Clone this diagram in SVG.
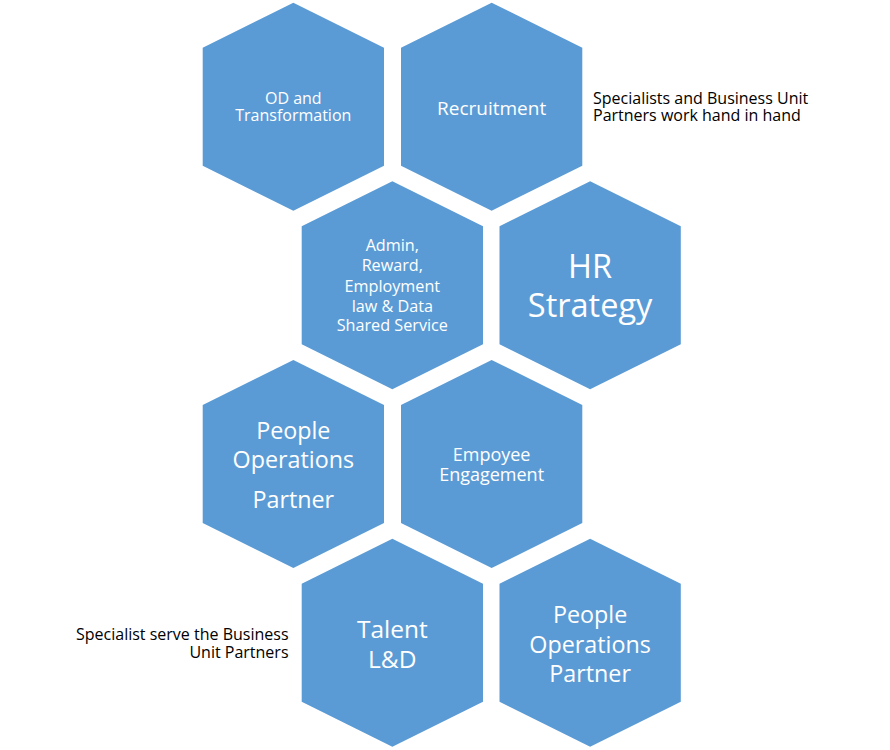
<svg xmlns="http://www.w3.org/2000/svg" xmlns:xlink="http://www.w3.org/1999/xlink" width="890" height="750" viewBox="0 0 890 750">
<defs>
<style>
.hex{fill:#5B9BD5;}
.t{font-family:"Open Sans","Noto Sans","Liberation Sans",sans-serif;fill:#FFFFFF;text-anchor:middle;}
.note{font-family:"Open Sans","Noto Sans","Liberation Sans",sans-serif;fill:#000000;font-size:16px;}
</style>
<polygon id="hexshape" points="90.65,0 181.3,45 181.3,163 90.65,208 0,163 0,45"/>
</defs>
<rect width="890" height="750" fill="#FFFFFF"/>
<g id="connectors"></g>
<g id="od">
<use xlink:href="#hexshape" href="#hexshape" class="hex" x="202.7" y="2.7"/>
<text class="t" font-size="16"><tspan x="293.3" y="104">OD and</tspan><tspan x="293.3" y="121.3">Transformation</tspan></text>
</g>
<g id="recruitment">
<use xlink:href="#hexshape" href="#hexshape" class="hex" x="401" y="2.7"/>
<text class="t" font-size="19" x="491.6" y="115">Recruitment</text>
</g>
<g id="admin">
<use xlink:href="#hexshape" href="#hexshape" class="hex" x="301.7" y="181.3"/>
<text class="t" font-size="16.2"><tspan x="392.3" y="251">Admin,</tspan><tspan x="392.3" y="270.5">Reward,</tspan><tspan x="392.3" y="291.5">Employment</tspan><tspan x="392.3" y="311.5">law &amp; Data</tspan><tspan x="392.3" y="330.7">Shared Service</tspan></text>
</g>
<g id="hrstrategy">
<use xlink:href="#hexshape" href="#hexshape" class="hex" x="499.5" y="181.3"/>
<text class="t" font-size="32.5"><tspan x="590.1" y="278.3">HR</tspan><tspan x="590.1" y="316.7">Strategy</tspan></text>
</g>
<g id="peopleops1">
<use xlink:href="#hexshape" href="#hexshape" class="hex" x="202.7" y="360"/>
<text class="t" font-size="23.3"><tspan x="293.3" y="439">People</tspan><tspan x="293.3" y="468.3">Operations</tspan><tspan x="293.3" y="507.7">Partner</tspan></text>
</g>
<g id="engagement">
<use xlink:href="#hexshape" href="#hexshape" class="hex" x="401" y="360"/>
<text class="t" font-size="18"><tspan x="491.6" y="461">Empoyee</tspan><tspan x="491.6" y="480.7">Engagement</tspan></text>
</g>
<g id="talent">
<use xlink:href="#hexshape" href="#hexshape" class="hex" x="301.7" y="538.7"/>
<text class="t" font-size="24.5"><tspan x="392.3" y="638.3">Talent</tspan><tspan x="392.3" y="668.3">L&amp;D</tspan></text>
</g>
<g id="peopleops2">
<use xlink:href="#hexshape" href="#hexshape" class="hex" x="499.5" y="538.7"/>
<text class="t" font-size="23.3"><tspan x="590.1" y="623.3">People</tspan><tspan x="590.1" y="652.7">Operations</tspan><tspan x="590.1" y="681.7">Partner</tspan></text>
</g>
<g id="note-top">
<text class="note"><tspan x="593" y="104">Specialists and Business Unit</tspan><tspan x="593" y="121">Partners work hand in hand</tspan></text>
</g>
<g id="note-bottom">
<text class="note" text-anchor="end"><tspan x="288.5" y="639.5">Specialist serve the Business</tspan><tspan x="288.5" y="658">Unit Partners</tspan></text>
</g>
</svg>
